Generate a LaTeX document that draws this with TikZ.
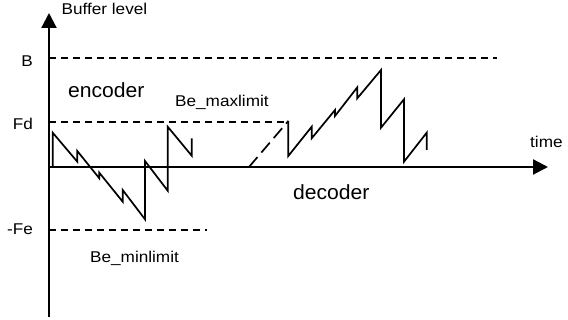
\documentclass[tikz,border=0pt]{standalone}
\usepackage{fontspec}
\setmainfont{Liberation Sans}
\usetikzlibrary{arrows.meta}
\tikzset{
  axisline/.style={line width=2.2pt, -{Triangle[length=15pt,width=15pt]}},
  limitline/.style={line width=1.4pt, dash pattern=on 7pt off 5pt},
  curve/.style={line width=1.7pt, line join=miter},
  smalllbl/.style={inner sep=0pt, font=\fontsize{15.6}{18}\selectfont},
  biglbl/.style={inner sep=0pt, font=\fontsize{20.5}{24}\selectfont},
}
\newcommand{\wide}[1]{\scalebox{1.1}[1]{#1}}
\begin{document}
\begin{tikzpicture}[x=1pt,y=-1pt]
\useasboundingbox (0,0) rectangle (568,320);
% axes
\coordinate (ybot) at (49,317);
\coordinate (ytop) at (49,13);
\coordinate (xl) at (49,167);
\coordinate (xr) at (548,167);
\draw[axisline] (ybot) -- (ytop);
\draw[axisline] (xl) -- (xr);
% limit lines
\coordinate (bl) at (49,58);  \coordinate (br) at (497,58);
\coordinate (fl) at (49,122); \coordinate (fr) at (288.3,122);
\coordinate (el) at (49,230); \coordinate (er) at (207,230);
\draw[limitline] (bl) -- (br);
\draw[limitline] (fl) -- (fr);
\draw[limitline] (el) -- (er);
% labels
\node[smalllbl, anchor=base west] (bufl) at (61.5,15) {\wide{Buffer level}};
\node[smalllbl, anchor=base east] (lB) at (33,66.5) {\wide{B}};
\node[smalllbl, anchor=base east] (lFd) at (33,130) {\wide{Fd}};
\node[smalllbl, anchor=base east] (lFe) at (33,235) {\wide{-Fe}};
\node[biglbl, anchor=base west] (enc) at (68,97.5) {\scalebox{1.03}[1]{encoder}};
\node[biglbl, anchor=base west] (dec) at (293,200) {\scalebox{1.03}[1]{decoder}};
\node[smalllbl, anchor=base west] (bmax) at (175,107) {\wide{Be\_maxlimit}};
\node[smalllbl, anchor=base west] (bmin) at (90,262.5) {\wide{Be\_minlimit}};
\node[smalllbl, anchor=base west] (time) at (530,147.5) {\wide{time}};
% encoder buffer curve
\draw[curve] (52.7,167) -- (52.7,132.7) -- (77.3,161.7) -- (77.3,151)
  -- (99.3,178.3) -- (99.3,172.7) -- (122.7,201.7) -- (122.7,190)
  -- (145,219.3) -- (145,161) -- (167.7,190.7) -- (167.7,126.7)
  -- (191.7,155.7) -- (191.7,138.3);
% decoder buffer curve
\draw[curve, dash pattern=on 13pt off 6pt] (249,167) -- (288.3,121);
\draw[curve] (288.3,121) -- (288.3,156) -- (311.7,126.7) -- (311.7,138.3)
  -- (335,110) -- (335,116) -- (357.3,87.3) -- (357.3,98.3)
  -- (381,70) -- (381,127.7) -- (404,99.3) -- (404,161.7)
  -- (426.7,132.7) -- (426.7,150);
\end{tikzpicture}
\end{document}
